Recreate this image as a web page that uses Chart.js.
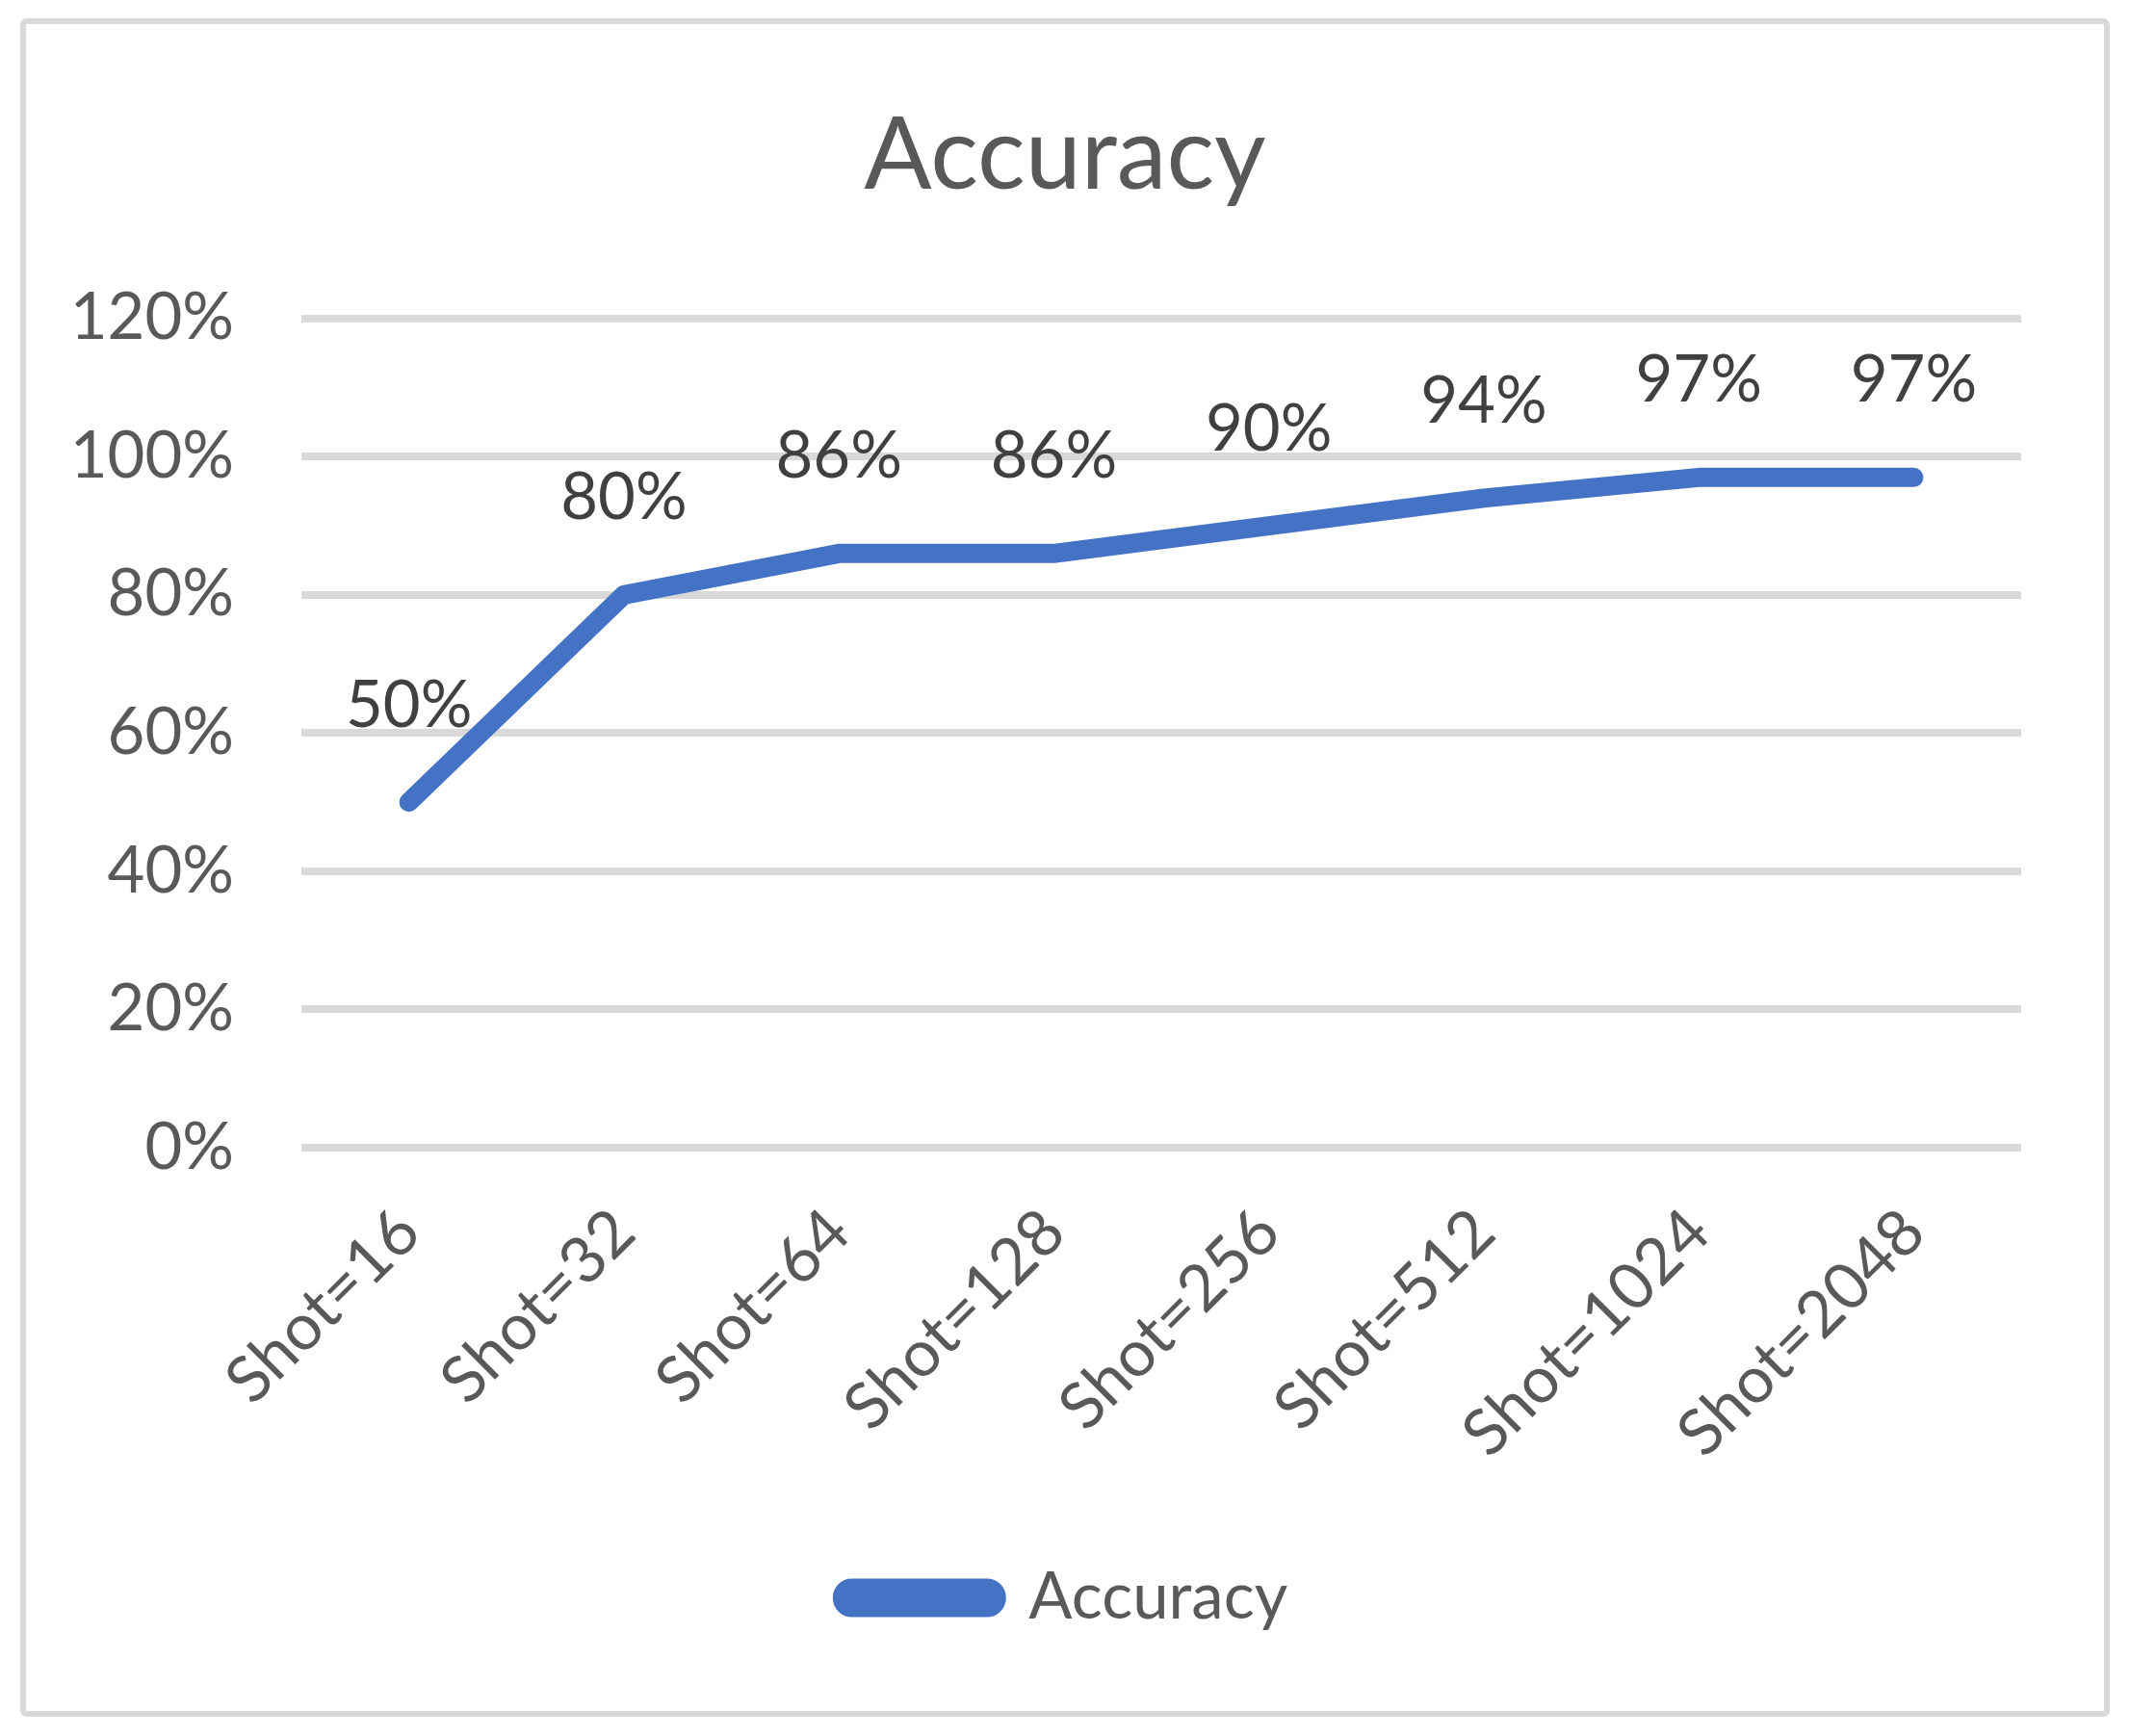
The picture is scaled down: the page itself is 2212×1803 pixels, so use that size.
<!DOCTYPE html>
<html>
<head>
<meta charset="utf-8">
<script src="https://cdn.jsdelivr.net/npm/chart.js@4/dist/chart.umd.min.js"></script>
<style>
  body { margin: 0; background: #fff; }
  canvas { display: block; }
</style>
</head>
<body>
<canvas id="accCanvas" width="2212" height="1803"></canvas>
<script>
const shots = ["Shot=16", "Shot=32", "Shot=64", "Shot=128", "Shot=256", "Shot=512", "Shot=1024", "Shot=2048"];
const accuracy = [0.50, 0.80, 0.86, 0.86, 0.90, 0.94, 0.97, 0.97];
const yTicks = [0, 0.2, 0.4, 0.6, 0.8, 1.0, 1.2];

const FONT = "Lato";
const TXT = 67;
const pct = v => Math.round(v * 100) + "%";

// grey frame round the whole chart
const framePlugin = {
    id: "frame",
    beforeDraw(chart) {
        const ctx = chart.ctx;
        ctx.save();
        ctx.fillStyle = "#ffffff";
        ctx.fillRect(0, 0, chart.width, chart.height);
        ctx.strokeStyle = "#d9d9d9";
        ctx.lineWidth = 6;
        ctx.beginPath();
        ctx.roundRect(24, 22, 2164, 1758, 4);
        ctx.stroke();
        ctx.restore();
    }
};

// value labels above each point
const valueLabels = {
    id: "valueLabels",
    afterDatasetsDraw(chart) {
        const ctx = chart.ctx;
        const meta = chart.getDatasetMeta(0);
        ctx.save();
        ctx.font = TXT + "px " + FONT;
        ctx.fillStyle = "#404040";
        ctx.textAlign = "center";
        ctx.textBaseline = "middle";
        meta.data.forEach((pt, i) => {
            ctx.fillText(pct(accuracy[i]), pt.x, pt.y - 100);
        });
        ctx.restore();
    }
};

const accCanvas = document.getElementById("accCanvas");
const accChart = new Chart(accCanvas, {
    type: "line",
    data: {
        labels: shots,
        datasets: [{
            label: "Accuracy",
            data: accuracy,
            borderColor: "#4472c4",
            backgroundColor: "#4472c4",
            borderWidth: 20,
            borderCapStyle: "round",
            borderJoinStyle: "round",
            pointRadius: 0,
            pointHoverRadius: 0,
            tension: 0
        }]
    },
    options: {
        responsive: false,
        animation: false,
        devicePixelRatio: 1,
        layout: {
            padding: { left: 0, right: 0, top: 0, bottom: 100 }
        },
        plugins: {
            title: {
                display: true,
                text: "Accuracy",
                color: "#595959",
                font: { family: FONT, size: 104, weight: "normal", lineHeight: 1.2 },
                padding: { top: 100, bottom: 106 }
            },
            legend: {
                display: true,
                position: "bottom",
                labels: {
                    color: "#595959",
                    font: { family: FONT, size: TXT },
                    boxWidth: 160,
                    boxHeight: 20,
                    padding: 10,
                    useBorderRadius: true,
                    borderRadius: 10
                }
            },
            tooltip: { enabled: false }
        },
        scales: {
            x: {
                offset: true,
                grid: { display: false },
                border: { display: false },
                afterFit(scale) { scale.height = 424; },
                ticks: {
                    color: "#595959",
                    font: { family: FONT, size: TXT },
                    minRotation: 45,
                    maxRotation: 45,
                    padding: 40
                }
            },
            y: {
                min: 0,
                max: 1.2,
                afterFit(scale) { scale.width = 313; },
                afterBuildTicks(scale) { scale.ticks = yTicks.map(v => ({ value: v })); },
                grid: { color: "#d9d9d9", lineWidth: 8, drawTicks: false },
                border: { display: false },
                ticks: {
                    color: "#595959",
                    font: { family: FONT, size: TXT },
                    padding: 70,
                    callback: v => pct(v)
                }
            },
            // empty right margin so title and legend centre on the frame
            yRight: {
                type: "linear",
                position: "right",
                afterFit(scale) { scale.width = 113; },
                grid: { display: false },
                border: { display: false },
                ticks: { display: false }
            }
        }
    },
    plugins: [framePlugin, valueLabels]
});
</script>
</body>
</html>
